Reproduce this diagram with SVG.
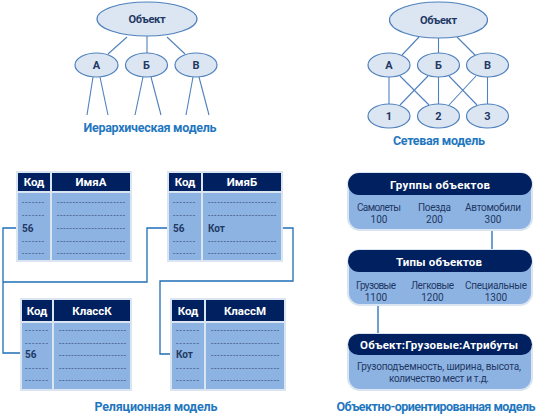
<svg xmlns="http://www.w3.org/2000/svg" width="545" height="416" viewBox="0 0 545 416">
<style>
.ell{fill:#dce6f2;stroke:#4f81bd;stroke-width:1.2}
.ln{stroke:#4f81bd;stroke-width:1.1;fill:none}
.et{font-family:Roboto,"Liberation Sans",sans-serif;font-weight:bold;font-size:11px;fill:#1f3864;text-anchor:middle}
.lbl{font-family:Roboto,"Liberation Sans",sans-serif;font-weight:bold;font-size:12.5px;fill:#1f77c0;text-anchor:middle}
.hd{fill:#002060}
.bd{fill:#8db3e2}
.sep{stroke:#dbe5f1;stroke-width:2;fill:none}
.ht{font-family:Roboto,"Liberation Sans",sans-serif;font-weight:bold;font-size:11.5px;fill:#ffffff;text-anchor:middle}
.ds{font-family:Roboto,"Liberation Sans",sans-serif;font-size:8px;fill:#1f3864}
.cv{font-family:Roboto,"Liberation Sans",sans-serif;font-weight:bold;font-size:10px;fill:#1f3864}
.conn{stroke:#1f6db5;stroke-width:1.3;fill:none}
.ob{fill:#8db3e2;stroke:#dbe5f1;stroke-width:2}
.ot{font-family:Roboto,"Liberation Sans",sans-serif;font-size:10px;fill:#1f3864;text-anchor:middle}
</style>

<!-- Hierarchical model -->
<g id="hier-lines">
<line class="ln" x1="127" y1="37" x2="108" y2="54"/>
<line class="ln" x1="147" y1="35" x2="147" y2="53"/>
<line class="ln" x1="167" y1="37" x2="185" y2="54"/>
<line class="ln" x1="93" y1="77" x2="87" y2="115"/>
<line class="ln" x1="100" y1="77" x2="108" y2="115"/>
<line class="ln" x1="143" y1="77" x2="135" y2="115"/>
<line class="ln" x1="151" y1="77" x2="161" y2="115"/>
<line class="ln" x1="193" y1="77" x2="186" y2="115"/>
<line class="ln" x1="199" y1="77" x2="209" y2="115"/>
</g>
<g id="h-obj"><ellipse class="ell" cx="147" cy="19" rx="50" ry="17"/><text class="et" x="147" y="23" textLength="37">Объект</text></g>
<g id="h-a"><ellipse class="ell" cx="96.5" cy="65" rx="21.5" ry="12"/><text class="et" x="96.5" y="69">А</text></g>
<g id="h-b"><ellipse class="ell" cx="146.5" cy="65" rx="21" ry="12"/><text class="et" x="146.5" y="69">Б</text></g>
<g id="h-v"><ellipse class="ell" cx="196" cy="65" rx="21" ry="12"/><text class="et" x="196" y="69">В</text></g>
<text class="lbl" x="150" y="132" textLength="133">Иерархическая модель</text>

<!-- Network model -->
<g id="net-lines">
<line class="ln" x1="419" y1="37" x2="402" y2="55"/>
<line class="ln" x1="438.5" y1="38" x2="438.5" y2="53"/>
<line class="ln" x1="457" y1="37" x2="475" y2="55"/>
<line class="ln" x1="389" y1="77" x2="389" y2="104"/>
<line class="ln" x1="438.5" y1="77" x2="438.5" y2="104"/>
<line class="ln" x1="487.5" y1="77" x2="487.5" y2="104"/>
<line class="ln" x1="400" y1="76" x2="429" y2="105"/>
<line class="ln" x1="428" y1="76" x2="400" y2="105"/>
<line class="ln" x1="449" y1="76" x2="477" y2="105"/>
<line class="ln" x1="476" y1="76" x2="449" y2="105"/>
</g>
<g id="n-obj"><ellipse class="ell" cx="438.5" cy="20" rx="49" ry="18"/><text class="et" x="438.5" y="24" textLength="37">Объект</text></g>
<g id="n-a"><ellipse class="ell" cx="389" cy="65" rx="21" ry="12"/><text class="et" x="389" y="69">А</text></g>
<g id="n-b"><ellipse class="ell" cx="438.5" cy="65" rx="21" ry="12"/><text class="et" x="438.5" y="69">Б</text></g>
<g id="n-v"><ellipse class="ell" cx="487.5" cy="65" rx="21" ry="12"/><text class="et" x="487.5" y="69">В</text></g>
<g id="n-1"><ellipse class="ell" cx="389" cy="116" rx="21" ry="12"/><text class="et" x="389" y="120">1</text></g>
<g id="n-2"><ellipse class="ell" cx="438.5" cy="116" rx="21" ry="12"/><text class="et" x="438.5" y="120">2</text></g>
<g id="n-3"><ellipse class="ell" cx="487.5" cy="116" rx="21" ry="12"/><text class="et" x="487.5" y="120">3</text></g>
<text class="lbl" x="439" y="145" textLength="92">Сетевая модель</text>

<!-- Relational connectors -->
<g id="rel-connectors">
<polyline class="conn" points="17,228 3,228 3,353 21,353"/>
<polyline class="conn" points="168,228 147,228 147,282 3,282"/>
<polyline class="conn" points="282,228 293,228 293,281 160,281 160,354 171,354"/>
</g>

<!-- Table ИмяА -->
<g id="t-a">
<rect class="hd" x="17" y="172" width="114" height="20"/>
<rect class="bd" x="17" y="192" width="114" height="69"/>
<rect class="sep" x="17" y="172" width="114" height="89"/>
<line class="sep" x1="51" y1="172" x2="51" y2="261"/>
<line class="sep" x1="17" y1="192" x2="131" y2="192"/>
<text class="ht" x="34" y="186">Код</text>
<text class="ht" x="91" y="186">ИмяА</text>
<text class="ds" x="22" y="205" textLength="22">-------</text>
<text class="ds" x="22" y="218" textLength="22">-------</text>
<text class="cv" x="22" y="232">56</text>
<text class="ds" x="22" y="244" textLength="22">-------</text>
<text class="ds" x="22" y="256" textLength="22">-------</text>
<text class="ds" x="57" y="205" textLength="68">----------------------</text>
<text class="ds" x="57" y="218" textLength="68">----------------------</text>
<text class="ds" x="57" y="231" textLength="68">----------------------</text>
<text class="ds" x="57" y="244" textLength="68">----------------------</text>
<text class="ds" x="57" y="256" textLength="68">----------------------</text>
</g>

<!-- Table ИмяБ -->
<g id="t-b">
<rect class="hd" x="168" y="172" width="114" height="20"/>
<rect class="bd" x="168" y="192" width="114" height="69"/>
<rect class="sep" x="168" y="172" width="114" height="89"/>
<line class="sep" x1="202" y1="172" x2="202" y2="261"/>
<line class="sep" x1="168" y1="192" x2="282" y2="192"/>
<text class="ht" x="185" y="186">Код</text>
<text class="ht" x="242" y="186">ИмяБ</text>
<text class="ds" x="173" y="205" textLength="22">-------</text>
<text class="ds" x="173" y="218" textLength="22">-------</text>
<text class="cv" x="173" y="232">56</text>
<text class="ds" x="173" y="244" textLength="22">-------</text>
<text class="ds" x="173" y="256" textLength="22">-------</text>
<text class="ds" x="208" y="205" textLength="68">----------------------</text>
<text class="ds" x="208" y="218" textLength="68">----------------------</text>
<text class="cv" x="208" y="232">Кот</text>
<text class="ds" x="208" y="244" textLength="68">----------------------</text>
<text class="ds" x="208" y="256" textLength="68">----------------------</text>
</g>

<!-- Table КлассК -->
<g id="t-k">
<rect class="hd" x="21" y="299" width="110" height="23"/>
<rect class="bd" x="21" y="322" width="110" height="68"/>
<rect class="sep" x="21" y="299" width="110" height="91"/>
<line class="sep" x1="53" y1="299" x2="53" y2="390"/>
<line class="sep" x1="21" y1="322" x2="131" y2="322"/>
<text class="ht" x="37" y="315">Код</text>
<text class="ht" x="92" y="315">КлассК</text>
<text class="ds" x="25" y="333" textLength="23">-------</text>
<text class="ds" x="25" y="346" textLength="23">-------</text>
<text class="cv" x="25" y="358">56</text>
<text class="ds" x="25" y="371" textLength="23">-------</text>
<text class="ds" x="25" y="383" textLength="23">-------</text>
<text class="ds" x="59" y="333" textLength="67">----------------------</text>
<text class="ds" x="59" y="346" textLength="67">----------------------</text>
<text class="ds" x="59" y="358" textLength="67">----------------------</text>
<text class="ds" x="59" y="371" textLength="67">----------------------</text>
<text class="ds" x="59" y="383" textLength="67">----------------------</text>
</g>

<!-- Table КлассМ -->
<g id="t-m">
<rect class="hd" x="171" y="299" width="114" height="23"/>
<rect class="bd" x="171" y="322" width="114" height="68"/>
<rect class="sep" x="171" y="299" width="114" height="91"/>
<line class="sep" x1="205" y1="299" x2="205" y2="390"/>
<line class="sep" x1="171" y1="322" x2="285" y2="322"/>
<text class="ht" x="188" y="315">Код</text>
<text class="ht" x="245" y="315">КлассМ</text>
<text class="ds" x="176" y="333" textLength="23">-------</text>
<text class="ds" x="176" y="346" textLength="23">-------</text>
<text class="cv" x="176" y="358">Кот</text>
<text class="ds" x="176" y="371" textLength="23">-------</text>
<text class="ds" x="176" y="383" textLength="23">-------</text>
<text class="ds" x="211" y="333" textLength="68">----------------------</text>
<text class="ds" x="211" y="346" textLength="68">----------------------</text>
<text class="ds" x="211" y="358" textLength="68">----------------------</text>
<text class="ds" x="211" y="371" textLength="68">----------------------</text>
<text class="ds" x="211" y="383" textLength="68">----------------------</text>
</g>
<text class="lbl" x="156" y="411" textLength="123">Реляционная модель</text>

<!-- OO model -->
<g id="oo-connectors">
<line class="conn" x1="492" y1="230" x2="492" y2="250"/>
<line class="conn" x1="378" y1="305" x2="378" y2="334"/>
</g>
<g id="oo-groups">
<rect class="ob" x="348" y="173" width="184" height="57" rx="12"/>
<rect class="hd" x="348" y="173" width="184" height="22" rx="11"/>
<text class="ht" x="440" y="189" textLength="100">Группы объектов</text>
<text class="ot" x="379" y="211" textLength="44">Самолеты</text>
<text class="ot" x="379" y="223">100</text>
<text class="ot" x="434.5" y="211" textLength="33">Поезда</text>
<text class="ot" x="434.5" y="223">200</text>
<text class="ot" x="493" y="211" textLength="56">Автомобили</text>
<text class="ot" x="493" y="223">300</text>
</g>
<g id="oo-types">
<rect class="ob" x="348" y="250" width="184" height="55" rx="12"/>
<rect class="hd" x="348" y="250" width="184" height="22" rx="11"/>
<text class="ht" x="439" y="266" textLength="86">Типы объектов</text>
<text class="ot" x="376" y="289" textLength="40">Грузовые</text>
<text class="ot" x="376" y="301">1100</text>
<text class="ot" x="432.5" y="289" textLength="43">Легковые</text>
<text class="ot" x="432.5" y="301">1200</text>
<text class="ot" x="496" y="289" textLength="62">Специальные</text>
<text class="ot" x="496" y="301">1300</text>
</g>
<g id="oo-attrs">
<rect class="ob" x="348" y="334" width="184" height="56" rx="12"/>
<rect class="hd" x="348" y="334" width="184" height="21" rx="10.5"/>
<text class="ht" x="439" y="349" textLength="158">Объект:Грузовые:Атрибуты</text>
<text class="ot" x="439" y="370" textLength="164">Грузоподъемность, ширина, высота,</text>
<text class="ot" x="439" y="382" textLength="100">количество мест и т.д.</text>
</g>
<text class="lbl" x="436" y="411" textLength="199">Объектно-ориентированная модель</text>
</svg>
